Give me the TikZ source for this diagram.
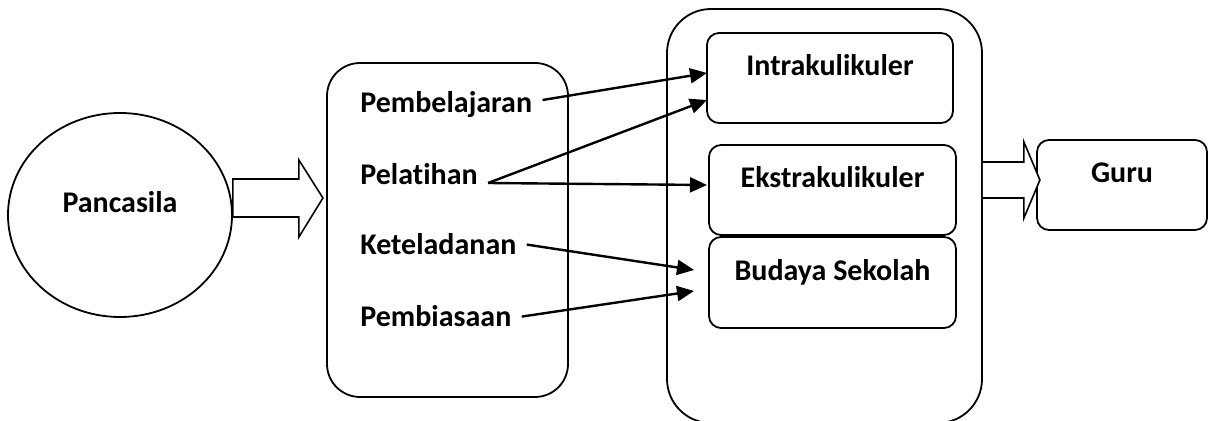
\documentclass[tikz,border=0pt]{standalone}
\usepackage{fontspec}
\setmainfont{Carlito}[Ligatures=CommonOff]
\usetikzlibrary{shapes.geometric,arrows.meta,calc}
\begin{document}
\begin{tikzpicture}[x=0.5pt,y=-0.5pt,
  every node/.style={font=\fontsize{15pt}{18pt}\selectfont\bfseries},
  outline/.style={draw, line width=0.9pt},
  innerbox/.style={outline, rounded corners=6pt, minimum width=123.5pt, minimum height=45pt, text height=10pt, text depth=12pt, inner sep=0pt},
  itemtext/.style={anchor=base west, inner sep=5pt},
  blockarrow/.style={draw, line width=0.8pt, fill=white, line join=miter},
  conn/.style={line width=1.2pt, -{Triangle[length=8.5pt,width=7.5pt]}}]
\useasboundingbox (0,0) rectangle (1208,421);
% Pancasila
\node[outline, ellipse, minimum width=112pt, minimum height=102pt, text height=10pt, text depth=12pt, inner sep=0pt] (pancasila) at (120,215) {Pancasila};
% middle box
\node[outline, rounded corners=16.5pt, minimum width=120.5pt, minimum height=167pt, inner sep=0pt] (mid) at (447.5,230) {};
\node[itemtext] (pembelajaran) at (350,113) {Pembelajaran};
\node[itemtext] (pelatihan) at (350,185) {Pelatihan};
\node[itemtext] (keteladanan) at (350,255) {Keteladanan};
\node[itemtext] (pembiasaan) at (350,327) {Pembiasaan};
% big box
\node[outline, rounded corners=22pt, minimum width=157.5pt, minimum height=207pt, inner sep=0pt] (big) at (824.5,216) {};
\node[innerbox, minimum width=123pt] (intra) at (830,78) {Intrakulikuler};
\node[innerbox] (ekstra) at (832.5,190) {Ekstrakulikuler};
\node[innerbox, minimum height=45.5pt] (budaya) at (832.5,282.5) {Budaya Sekolah};
% Guru
\node[innerbox, minimum width=85pt] (guru) at (1122,185) {Guru};
% block arrows
\draw[blockarrow] (pancasila.east) ++(0,-36) -- ++(66,0) -- ++(0,-19) -- ++(24,38) -- ++(-24,39) -- ++(0,-20) -- ++(-66,0) -- cycle;
\draw[blockarrow] (big.east) ++(0,-54) -- ++(41,0) -- ++(0,-20) -- ++(16,38) -- ++(-16,38) -- ++(0,-20) -- ++(-41,0);
% connector ends
\coordinate (t1) at (707,73);
\coordinate (t2) at (707,100);
\coordinate (t3) at (707,185);
\coordinate (t4) at (694,270);
\coordinate (t5) at (694,291);
\draw[conn] ([yshift=2.5pt]pembelajaran.east) -- (t1);
\draw[conn] ([yshift=1pt]pelatihan.base east) -- (t2);
\draw[conn] ([yshift=1pt]pelatihan.base east) -- (t3);
\draw[conn] (keteladanan.east) -- (t4);
\draw[conn] (pembiasaan.east) -- (t5);
\end{tikzpicture}
\end{document}
